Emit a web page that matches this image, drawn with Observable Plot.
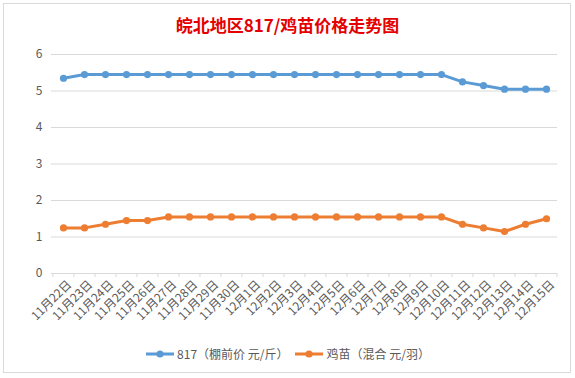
<!DOCTYPE html>
<html>
<head>
<meta charset="utf-8">
<script src="https://cdn.jsdelivr.net/npm/d3@7"></script>
<script src="https://cdn.jsdelivr.net/npm/@observablehq/plot@0.6"></script>
<style>
  html, body { margin: 0; padding: 0; background: #fff; }
  #wrap { position: relative; width: 575px; height: 378px; overflow: hidden; font-family: "Noto Sans CJK SC", "Noto Sans", sans-serif; }
  #frame { position: absolute; left: 3px; top: 3px; width: 566px; height: 368px; border: 1px solid #d9d9d9; }
  #title { position: absolute; top: 13px; left: 0; width: 575px; text-align: center; color: #e50000; font-weight: bold; font-size: 17px; line-height: 24px; }
  #chart { position: absolute; top: 45px; left: 0; }
  #legend { position: absolute; top: 345px; left: 0; width: 575px; display: flex; justify-content: center; align-items: center; font-size: 12px; color: #595959; gap: 6px; }
  .item { display: flex; align-items: center; gap: 2px; }
</style>
</head>
<body>
<div id="wrap">
  <div id="frame"></div>
  <div id="title">皖北地区817/鸡苗价格走势图</div>
  <div id="chart"></div>
  <div id="legend"></div>
</div>
<script>
const dates = ["11月22日","11月23日","11月24日","11月25日","11月26日","11月27日","11月28日","11月29日","11月30日",
  "12月1日","12月2日","12月3日","12月4日","12月5日","12月6日","12月7日","12月8日","12月9日","12月10日",
  "12月11日","12月12日","12月13日","12月14日","12月15日"];
const price817 = [5.35,5.45,5.45,5.45,5.45,5.45,5.45,5.45,5.45,5.45,5.45,5.45,5.45,5.45,5.45,5.45,5.45,5.45,5.45,5.25,5.15,5.05,5.05,5.05];
const priceChick = [1.25,1.25,1.35,1.45,1.45,1.55,1.55,1.55,1.55,1.55,1.55,1.55,1.55,1.55,1.55,1.55,1.55,1.55,1.55,1.35,1.25,1.15,1.35,1.5];
const seriesNames = ["817（棚前价 元/斤）", "鸡苗（混合 元/羽）"];
const seriesColors = ["#5b9bd5", "#ed7d31"];
const yTicks = [0,1,2,3,4,5,6];

const W = 575, H = 290, ML = 51, MR = 18, MT = 9, MB = 62;
const step = (W - ML - MR) / dates.length;

const d817 = dates.map((d, i) => ({date: d, value: price817[i]}));
const dChick = dates.map((d, i) => ({date: d, value: priceChick[i]}));

const chart = Plot.plot({
  width: W, height: H,
  marginLeft: ML, marginRight: MR, marginTop: MT, marginBottom: MB,
  style: {fontFamily: "'Noto Sans CJK SC', 'Noto Sans', sans-serif", fontSize: "12px", color: "#595959", background: "transparent"},
  x: {type: "point", domain: dates, padding: 0.5, label: null},
  y: {domain: [0, 6], label: null},
  marks: [
    Plot.gridY(yTicks.slice(1), {stroke: "#d9d9d9", strokeOpacity: 1}),
    Plot.ruleY([0], {stroke: "#d9d9d9"}),
    Plot.ruleX(dates, {x: d => d, y1: 0, y2: -0.11, dx: -step / 2, stroke: "#d9d9d9"}),
    Plot.ruleX([dates[dates.length - 1]], {x: d => d, y1: 0, y2: -0.11, dx: step / 2, stroke: "#d9d9d9"}),
    Plot.axisY({ticks: yTicks, tickFormat: d => String(d), tickSize: 0, tickPadding: 9, label: null, fontSize: 12}),
    Plot.axisX({tickSize: 0, tickRotate: -45, tickPadding: 9, dx: 6, label: null, fontSize: 12}),
    Plot.line(d817, {x: "date", y: "value", stroke: seriesColors[0], strokeWidth: 3}),
    Plot.dot(d817, {x: "date", y: "value", r: 3.6, fill: seriesColors[0], stroke: "none"}),
    Plot.line(dChick, {x: "date", y: "value", stroke: seriesColors[1], strokeWidth: 3}),
    Plot.dot(dChick, {x: "date", y: "value", r: 3.6, fill: seriesColors[1], stroke: "none"})
  ]
});
document.getElementById("chart").appendChild(chart);

const legend = document.getElementById("legend");
seriesNames.forEach((name, i) => {
  const item = document.createElement("div");
  item.className = "item";
  item.innerHTML = `<svg width="30" height="10"><line x1="1" y1="5" x2="29" y2="5" stroke="${seriesColors[i]}" stroke-width="3"/><circle cx="15" cy="5" r="3.6" fill="${seriesColors[i]}"/></svg><span>${name}</span>`;
  legend.appendChild(item);
});
</script>
</body>
</html>
